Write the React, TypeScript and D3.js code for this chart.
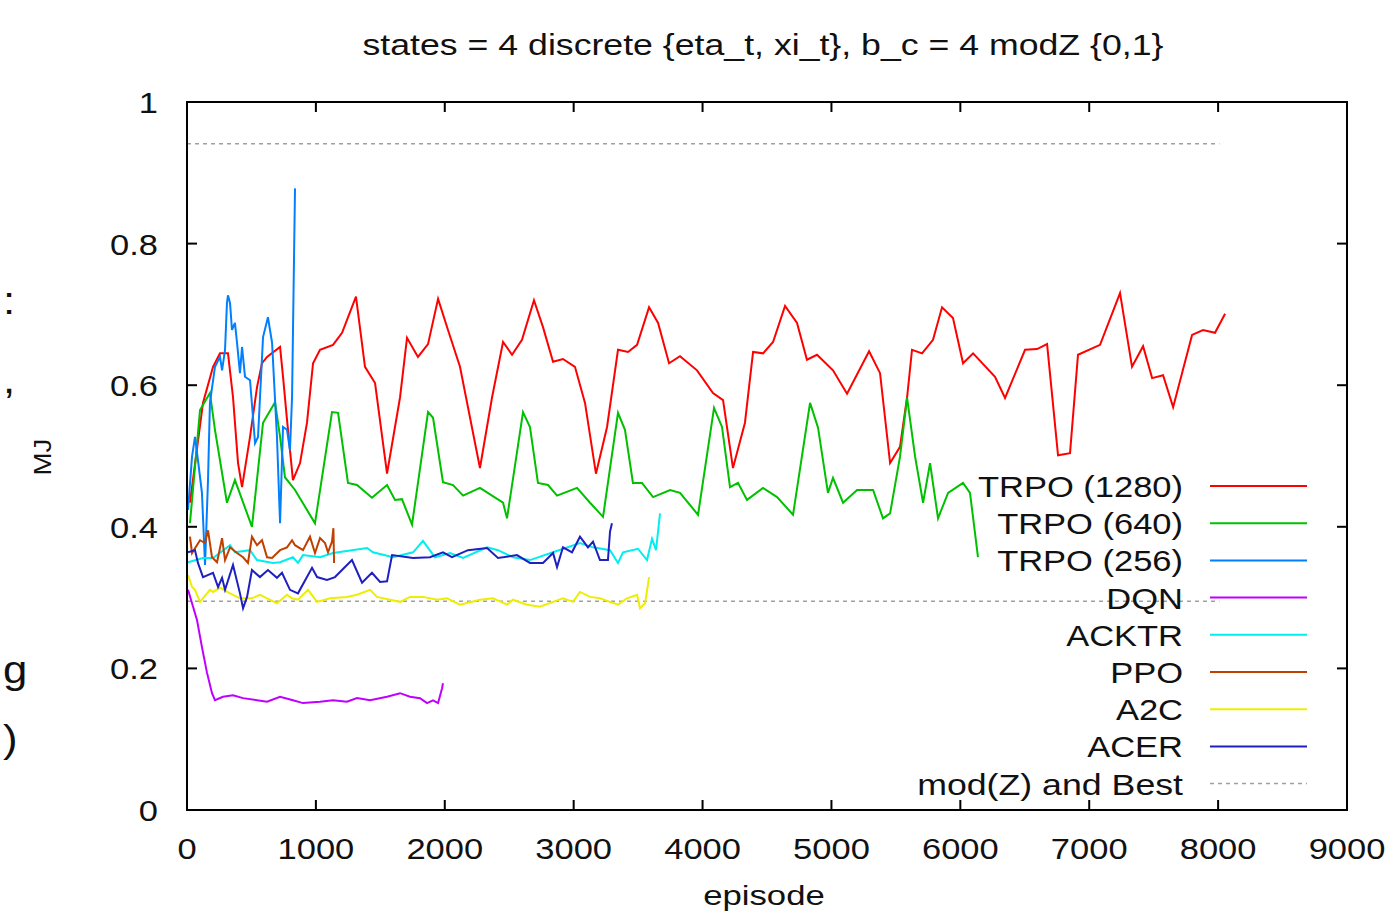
import * as d3 from 'd3';

// [episode, MJ] pairs
const trpo1280 = [
  [23, 0.434], [124, 0.575], [202, 0.626], [256, 0.645], [318, 0.645], [357, 0.583], [396, 0.49], [427, 0.456],
  [489, 0.527], [543, 0.597], [582, 0.631], [621, 0.64], [722, 0.654], [745, 0.612], [776, 0.551], [822, 0.466],
  [877, 0.49], [931, 0.547], [978, 0.631], [1032, 0.65], [1133, 0.657], [1203, 0.674], [1311, 0.725], [1381, 0.626],
  [1459, 0.603], [1552, 0.475], [1653, 0.583], [1707, 0.667], [1792, 0.64], [1870, 0.658], [1948, 0.722], [2025, 0.678],
  [2118, 0.626], [2273, 0.483], [2367, 0.583], [2452, 0.661], [2522, 0.643], [2599, 0.664], [2692, 0.72], [2762, 0.682],
  [2840, 0.633], [2917, 0.637], [3010, 0.626], [3088, 0.575], [3173, 0.475], [3259, 0.541], [3344, 0.65], [3422, 0.647],
  [3492, 0.657], [3585, 0.71], [3655, 0.688], [3740, 0.631], [3825, 0.641], [3957, 0.621], [4081, 0.589], [4159, 0.579],
  [4236, 0.483], [4329, 0.547], [4392, 0.647], [4469, 0.645], [4547, 0.661], [4640, 0.712], [4733, 0.688], [4810, 0.636],
  [4888, 0.643], [5012, 0.621], [5121, 0.588], [5292, 0.648], [5377, 0.617], [5455, 0.49], [5532, 0.513], [5587, 0.583],
  [5625, 0.65], [5703, 0.645], [5788, 0.664], [5858, 0.71], [5943, 0.695], [6021, 0.631], [6099, 0.645], [6269, 0.612],
  [6347, 0.582], [6502, 0.65], [6595, 0.651], [6673, 0.658], [6758, 0.501], [6851, 0.504], [6913, 0.643], [7084, 0.657],
  [7239, 0.73], [7332, 0.626], [7418, 0.655], [7488, 0.61], [7573, 0.614], [7651, 0.569], [7798, 0.671], [7883, 0.678],
  [7976, 0.674], [8054, 0.701],
];

const trpo640 = [
  [23, 0.405], [101, 0.565], [178, 0.589], [217, 0.537], [310, 0.434], [372, 0.466], [504, 0.4], [590, 0.547],
  [683, 0.576], [722, 0.527], [760, 0.47], [838, 0.452], [993, 0.405], [1125, 0.562], [1172, 0.561], [1249, 0.462],
  [1319, 0.459], [1435, 0.441], [1552, 0.459], [1614, 0.438], [1668, 0.439], [1746, 0.403], [1870, 0.562], [1909, 0.554],
  [1986, 0.463], [2064, 0.459], [2142, 0.444], [2273, 0.455], [2452, 0.434], [2483, 0.412], [2607, 0.562], [2661, 0.541],
  [2723, 0.462], [2801, 0.459], [2871, 0.444], [3026, 0.455], [3127, 0.434], [3228, 0.414], [3344, 0.561], [3398, 0.537],
  [3460, 0.462], [3530, 0.462], [3616, 0.442], [3748, 0.452], [3825, 0.448], [3965, 0.417], [4089, 0.568], [4151, 0.541],
  [4213, 0.456], [4275, 0.462], [4345, 0.438], [4469, 0.455], [4578, 0.442], [4702, 0.417], [4834, 0.575], [4896, 0.54],
  [4973, 0.448], [5012, 0.469], [5090, 0.434], [5199, 0.452], [5323, 0.452], [5400, 0.412], [5455, 0.419], [5532, 0.499],
  [5587, 0.582], [5649, 0.499], [5711, 0.434], [5765, 0.49], [5827, 0.412], [5905, 0.448], [6021, 0.462], [6075, 0.448],
  [6137, 0.357],
];

const trpo256 = [
  [8, 0.424], [39, 0.499], [62, 0.527], [85, 0.494], [116, 0.448], [140, 0.346], [163, 0.466], [178, 0.575],
  [217, 0.626], [256, 0.64], [272, 0.621], [295, 0.65], [310, 0.716], [318, 0.727], [334, 0.716], [349, 0.678],
  [372, 0.688], [388, 0.66], [411, 0.617], [427, 0.654], [450, 0.612], [489, 0.607], [528, 0.518], [551, 0.527],
  [590, 0.668], [628, 0.696], [660, 0.66], [698, 0.527], [722, 0.405], [745, 0.541], [776, 0.537], [799, 0.508],
  [815, 0.583], [838, 0.878],
];

const dqn = [
  [8, 0.311], [39, 0.292], [78, 0.268], [116, 0.23], [155, 0.194], [194, 0.165], [217, 0.155], [279, 0.16],
  [357, 0.162], [435, 0.158], [543, 0.155], [621, 0.153], [722, 0.16], [822, 0.155], [900, 0.151], [1032, 0.153],
  [1133, 0.155], [1241, 0.153], [1319, 0.158], [1420, 0.155], [1552, 0.16], [1653, 0.165], [1730, 0.16], [1808, 0.158],
  [1862, 0.151], [1909, 0.155], [1948, 0.151], [1979, 0.172], [1986, 0.179],
];

const acktr = [
  [8, 0.35], [124, 0.356], [202, 0.356], [334, 0.374], [372, 0.364], [489, 0.367], [543, 0.353], [667, 0.349],
  [722, 0.35], [822, 0.357], [861, 0.349], [900, 0.36], [1032, 0.357], [1133, 0.363], [1397, 0.37], [1443, 0.364],
  [1598, 0.357], [1754, 0.364], [1831, 0.38], [1924, 0.357], [2041, 0.363], [2142, 0.356], [2328, 0.371], [2413, 0.367],
  [2529, 0.357], [2661, 0.353], [2840, 0.364], [3049, 0.377], [3150, 0.371], [3282, 0.367], [3344, 0.349], [3383, 0.364],
  [3499, 0.369], [3569, 0.353], [3608, 0.383], [3639, 0.367], [3670, 0.419],
];

const ppo = [
  [23, 0.386], [39, 0.363], [101, 0.381], [140, 0.377], [163, 0.395], [194, 0.357], [233, 0.35], [272, 0.384],
  [295, 0.353], [334, 0.371], [388, 0.363], [435, 0.357], [473, 0.349], [504, 0.386], [543, 0.374], [582, 0.381],
  [621, 0.357], [660, 0.356], [722, 0.367], [776, 0.371], [815, 0.381], [838, 0.374], [900, 0.367], [954, 0.386],
  [993, 0.363], [1032, 0.384], [1071, 0.377], [1094, 0.364], [1125, 0.379], [1136, 0.398], [1141, 0.349],
];

const a2c = [
  [8, 0.332], [39, 0.315], [62, 0.311], [101, 0.294], [178, 0.311], [202, 0.308], [256, 0.314], [334, 0.306],
  [411, 0.299], [504, 0.299], [566, 0.304], [621, 0.299], [698, 0.292], [776, 0.304], [815, 0.299], [861, 0.297],
  [939, 0.311], [1009, 0.294], [1110, 0.299], [1241, 0.301], [1319, 0.304], [1420, 0.311], [1474, 0.301], [1575, 0.297],
  [1653, 0.294], [1730, 0.301], [1831, 0.301], [1940, 0.297], [2017, 0.299], [2118, 0.29], [2273, 0.297], [2374, 0.299],
  [2483, 0.29], [2529, 0.297], [2638, 0.29], [2739, 0.287], [2840, 0.294], [2917, 0.299], [2995, 0.294], [3049, 0.308],
  [3127, 0.301], [3204, 0.299], [3282, 0.294], [3344, 0.29], [3414, 0.299], [3492, 0.304], [3515, 0.285], [3554, 0.292],
  [3585, 0.329],
];

const acer = [
  [8, 0.364], [62, 0.367], [85, 0.349], [124, 0.329], [202, 0.335], [241, 0.315], [272, 0.328], [295, 0.311],
  [357, 0.346], [411, 0.306], [435, 0.285], [466, 0.301], [504, 0.339], [566, 0.329], [628, 0.339], [698, 0.328],
  [737, 0.335], [799, 0.311], [861, 0.306], [970, 0.342], [1009, 0.329], [1086, 0.325], [1148, 0.329], [1280, 0.353],
  [1358, 0.321], [1435, 0.335], [1498, 0.322], [1552, 0.323], [1591, 0.36], [1754, 0.356], [1885, 0.357], [1986, 0.364],
  [2056, 0.357], [2180, 0.367], [2328, 0.37], [2413, 0.356], [2560, 0.36], [2661, 0.349], [2762, 0.349], [2840, 0.363],
  [2871, 0.343], [2917, 0.371], [2987, 0.364], [3049, 0.386], [3111, 0.371], [3150, 0.379], [3204, 0.353], [3266, 0.353],
  [3282, 0.393], [3297, 0.405],
];

// mod(Z) and Best reference levels
const refLevels = [0.941, 0.295];
const refEnd = 8010;

const xTicks = [0, 1000, 2000, 3000, 4000, 5000, 6000, 7000, 8000, 9000];
const yTicks = [0, 0.2, 0.4, 0.6, 0.8, 1];

const series = [
  { name: 'TRPO (1280)', color: '#ff0000', data: trpo1280 },
  { name: 'TRPO (640)', color: '#00c000', data: trpo640 },
  { name: 'TRPO (256)', color: '#0080ff', data: trpo256 },
  { name: 'DQN', color: '#c000ff', data: dqn },
  { name: 'ACKTR', color: '#00eeee', data: acktr },
  { name: 'PPO', color: '#c04000', data: ppo },
  { name: 'A2C', color: '#eeee00', data: a2c },
  { name: 'ACER', color: '#2020c0', data: acer },
];

// fragments of text from the panel on the left, cut by the crop
const edgeText = [':', ',', 'g', ')'];

const W = 1390;
const H = 915;
const margin = { top: 102, right: 43, bottom: 105, left: 187 };
const FONT = '"Liberation Sans", Arial, sans-serif';
const SX = 1.15; // text in the reference is stretched horizontally

function Txt({ x, y, anchor = 'start', size = 30, sx = SX, children }: any) {
  return (
    <text
      transform={`translate(${x},${y}) scale(${sx},1)`}
      textAnchor={anchor}
      fontSize={size}
      fontFamily={FONT}
      fill='#111'
    >
      {children}
    </text>
  );
}

export default function App() {
  const x = d3.scaleLinear().domain([0, 9000]).range([margin.left, W - margin.right]);
  const y = d3.scaleLinear().domain([0, 1]).range([H - margin.bottom, margin.top]);
  const line = d3
    .line<number[]>()
    .x((d) => x(d[0]))
    .y((d) => y(d[1]));

  const x0 = x.range()[0];
  const x1 = x.range()[1];
  const y0 = y.range()[0];
  const y1 = y.range()[1];
  const tick = 10;

  const legendX = 1183;
  const legendY = 486;
  const legendStep = 37.2;
  const edgeY = [314, 393, 683, 752];

  return (
    <svg
      width={W}
      height={H}
      style={{ position: 'absolute', left: 0, top: 0, background: '#fff' }}
    >
      <rect width={W} height={H} fill='#fff' />

      {edgeText.map((t, i) => (
        <Txt key={'e' + i} x={3} y={edgeY[i]} size={38}>{t}</Txt>
      ))}

      {/* title */}
      <Txt x={763} y={55} anchor='middle' size={29} sx={1.23}>
        states = 4 discrete {'{'}eta_t, xi_t{'}'}, b_c = 4 modZ {'{'}0,1{'}'}
      </Txt>

      {/* reference lines */}
      {refLevels.map((v) => (
        <line
          key={v}
          x1={x(0)}
          x2={x(refEnd)}
          y1={y(v)}
          y2={y(v)}
          stroke='#a0a0a0'
          strokeWidth={1.5}
          strokeDasharray='4,4'
        />
      ))}

      {/* series */}
      <g fill='none' strokeWidth={2} strokeLinejoin='miter'>
        {series.map((s) => (
          <path key={s.name} d={line(s.data) ?? ''} stroke={s.color} />
        ))}
      </g>

      {/* frame and ticks */}
      <rect x={x0} y={y1} width={x1 - x0} height={y0 - y1} fill='none' stroke='#000' strokeWidth={2} />
      {xTicks.map((t) => (
        <g key={'x' + t}>
          <line x1={x(t)} x2={x(t)} y1={y0} y2={y0 - tick} stroke='#000' strokeWidth={2} />
          <line x1={x(t)} x2={x(t)} y1={y1} y2={y1 + tick} stroke='#000' strokeWidth={2} />
          <Txt x={x(t)} y={859} anchor='middle'>{t}</Txt>
        </g>
      ))}
      {yTicks.map((t) => (
        <g key={'y' + t}>
          <line x1={x0} x2={x0 + tick} y1={y(t)} y2={y(t)} stroke='#000' strokeWidth={2} />
          <line x1={x1} x2={x1 - tick} y1={y(t)} y2={y(t)} stroke='#000' strokeWidth={2} />
          <Txt x={158} y={y(t) + 11} anchor='end'>{t === 0 || t === 1 ? String(t) : t.toFixed(1)}</Txt>
        </g>
      ))}

      {/* axis titles */}
      <Txt x={764} y={905} anchor='middle' size={28} sx={1.24}>episode</Txt>
      <text
        transform={`translate(51,457) rotate(-90) scale(${SX},1)`}
        textAnchor='middle'
        fontSize={24}
        fontFamily={FONT}
        fill='#111'
      >
        MJ
      </text>

      {/* legend */}
      <g>
        {series.map((s, i) => {
          const ly = legendY + i * legendStep;
          return (
            <g key={'l' + s.name}>
              <Txt x={legendX} y={ly + 11} anchor='end'>{s.name}</Txt>
              <line x1={1210} x2={1307} y1={ly} y2={ly} stroke={s.color} strokeWidth={2} />
            </g>
          );
        })}
        <Txt x={legendX} y={legendY + 8 * legendStep + 11} anchor='end' sx={1.19}>mod(Z) and Best</Txt>
        <line
          x1={1210}
          x2={1307}
          y1={legendY + 8 * legendStep}
          y2={legendY + 8 * legendStep}
          stroke='#a0a0a0'
          strokeWidth={1.5}
          strokeDasharray='4,4'
        />
      </g>
    </svg>
  );
}
